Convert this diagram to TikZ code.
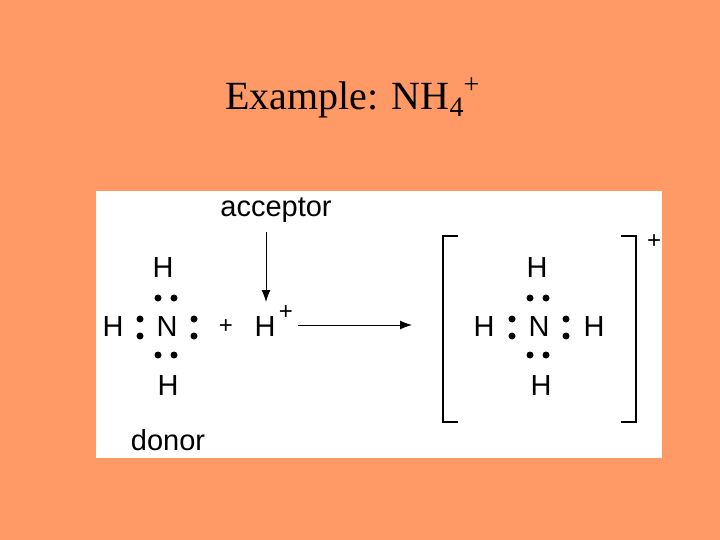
\documentclass[tikz,border=0pt]{standalone}
\usepackage{fontspec}
\setmainfont{Liberation Sans}
\newfontfamily\seriffont{Liberation Serif}
\usetikzlibrary{arrows.meta}
\definecolor{bg}{HTML}{FF9966}
\tikzset{lbl/.style={inner sep=0pt,font=\fontsize{29}{31}\selectfont},
 sup/.style={inner sep=0pt,font=\fontsize{24}{26}\selectfont},
 dot/.style={circle,fill=black,inner sep=0pt,minimum size=7pt},
 arr/.style={-{Latex[length=12pt,width=9pt]},line width=1pt}}
\begin{document}
\begin{tikzpicture}[x=1pt,y=-1pt]
\fill[bg] (0,0) rectangle (720,540);
\useasboundingbox (0,0) rectangle (720,540);
\fill[white] (96,191) rectangle (662,458);
\node[inner sep=0pt,font=\seriffont\fontsize{40}{44}\selectfont,anchor=base west] (title) at (225,110) {Example: NH\raisebox{-7pt}{\fontsize{28}{30}\selectfont 4}\raisebox{16pt}{\fontsize{28}{30}\selectfont +}};
\node[lbl] (acc) at (276,210) {acceptor};
\node[lbl] (don) at (168,440) {donor};
% left molecule
\node[lbl] (Ht) at (163,268) {H};
\node[lbl] (N) at (167,327) {N};
\node[lbl] (Hl) at (113,327) {H};
\node[lbl] (Hb) at (168,386) {H};
\foreach \p/\q in {158/298,174/298,158/355,174/355,140/319,140/336,194/319,194/336}
  \node[dot] at (\p,\q) {};
\node[sup] (plus) at (226,327) {+};
\node[lbl] (Hp) at (265,327) {H};
\node[sup] (hplus) at (286,313) {+};
\coordinate (accend) at (266,302);
\draw[arr] (266,232) -- (accend);
\coordinate (a1) at (298,325);
\coordinate (a2) at (412,325);
\draw[arr] (a1) -- (a2);
% right molecule
\draw[line width=1.3pt] (458,236) -- (443,236) -- (443,422) -- (458,422);
\draw[line width=1.3pt] (621,236) -- (636,236) -- (636,422) -- (621,422);
\node[sup] (chg) at (654,242) {+};
\node[lbl] (Ht2) at (537,268) {H};
\node[lbl] (N2) at (539,327) {N};
\node[lbl] (Hl2) at (484,327) {H};
\node[lbl] (Hr2) at (594,327) {H};
\node[lbl] (Hb2) at (541,386) {H};
\foreach \p/\q in {530/298,546/298,530/355,546/355,512/319,512/336,566/319,566/336}
  \node[dot] at (\p,\q) {};
\end{tikzpicture}
\end{document}
